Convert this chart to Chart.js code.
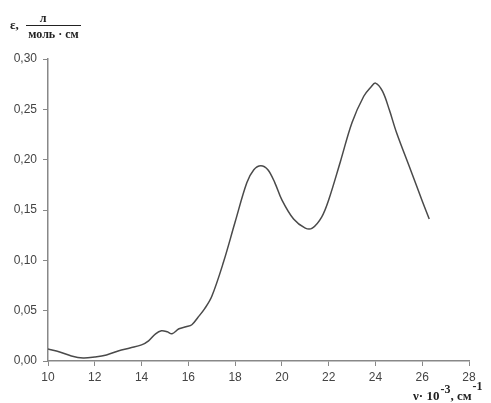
<!DOCTYPE html>
<html>
<head>
<meta charset="utf-8">
<script src="https://cdn.jsdelivr.net/npm/chart.js@4.4.1/dist/chart.umd.min.js"></script>
<style>
html,body{margin:0;padding:0;background:#fff;}
#wrap{width:491px;height:403px;position:relative;}
</style>
</head>
<body>
<div id="wrap"><canvas id="c" width="491" height="403"></canvas></div>
<script>
const wavenumber = [10.0,10.5,11.0,11.5,12.0,12.5,13.0,13.5,14.0,14.3,14.6,14.85,15.1,15.3,15.6,15.9,16.15,16.4,16.7,17.0,17.5,18.0,18.5,18.8,19.1,19.4,19.7,20.0,20.5,21.0,21.3,21.7,22.0,22.5,23.0,23.5,23.8,24.0,24.3,24.6,24.9,25.5,26.0,26.3];
const epsilon = [0.012,0.009,0.005,0.003,0.004,0.006,0.010,0.013,0.016,0.020,0.027,0.030,0.029,0.027,0.032,0.034,0.036,0.043,0.052,0.064,0.098,0.138,0.177,0.190,0.194,0.190,0.177,0.160,0.141,0.132,0.132,0.143,0.160,0.198,0.237,0.263,0.272,0.276,0.268,0.249,0.227,0.190,0.159,0.141];
const xTicks = [10,12,14,16,18,20,22,24,26,28];
const yTicks = [0,0.05,0.10,0.15,0.20,0.25,0.30];

const points = wavenumber.map((x,i)=>({x:x,y:epsilon[i]}));

const labelPlugin = {
  id:'labels',
  afterDraw(chart){
    const ctx = chart.ctx;
    ctx.save();
    ctx.fillStyle = '#222';
    ctx.strokeStyle = '#222';
    ctx.textBaseline = 'alphabetic';
    // y-axis title
    ctx.font = 'bold 13px "Liberation Serif"';
    ctx.textAlign = 'left';
    ctx.fillText('ε,', 10, 29);
    ctx.font = 'bold 12px "Liberation Serif"';
    ctx.textAlign = 'center';
    ctx.fillText('л', 43, 22);
    ctx.lineWidth = 1;
    ctx.beginPath(); ctx.moveTo(26, 25.5); ctx.lineTo(81, 25.5); ctx.stroke();
    ctx.fillText('моль · см', 53.5, 38);
    // x-axis title
    ctx.textAlign = 'left';
    ctx.font = 'bold 13px "Liberation Serif"';
    let x = 413;
    const base = 400;
    ctx.fillText('ν· 10', x, base); x += ctx.measureText('ν· 10').width + 1;
    ctx.font = 'bold 12px "Liberation Serif"';
    ctx.fillText('-3', x, base - 7); x += ctx.measureText('-3').width;
    ctx.font = 'bold 13px "Liberation Serif"';
    ctx.fillText(', см', x, base); x += ctx.measureText(', см').width + 1;
    ctx.font = 'bold 12px "Liberation Serif"';
    ctx.fillText('-1', x, base - 10);
    ctx.restore();
  }
};

new Chart(document.getElementById('c'), {
  type:'line',
  data:{datasets:[{data:points,borderColor:'#4a4a4a',borderWidth:1.5,pointRadius:0,fill:false,tension:0.35}]},
  options:{
    responsive:false,animation:false,
    layout:{padding:{top:59,right:22,bottom:0,left:0}},
    plugins:{legend:{display:false},tooltip:{enabled:false}},
    scales:{
      x:{type:'linear',min:10,max:28,
        afterBuildTicks(s){s.ticks = xTicks.map(v=>({value:v}));},
        afterFit(s){s.height = 42;},
        ticks:{color:'#444',font:{family:'Liberation Sans',size:12},padding:4,maxRotation:0,callback:v=>String(v)},
        grid:{drawOnChartArea:false,drawTicks:true,tickLength:5,color:'#888'},
        border:{display:true,color:'#888',width:1.5}},
      y:{type:'linear',min:0,max:0.3,
        afterBuildTicks(s){s.ticks = yTicks.map(v=>({value:v}));},
        afterFit(s){s.width = 48;},
        ticks:{color:'#444',font:{family:'Liberation Sans',size:12},padding:6,callback:v=>v.toFixed(2).replace('.',',')},
        grid:{drawOnChartArea:false,drawTicks:true,tickLength:5,color:'#888'},
        border:{display:true,color:'#888',width:1.5}}
    }
  },
  plugins:[labelPlugin]
});
</script>
</body>
</html>
